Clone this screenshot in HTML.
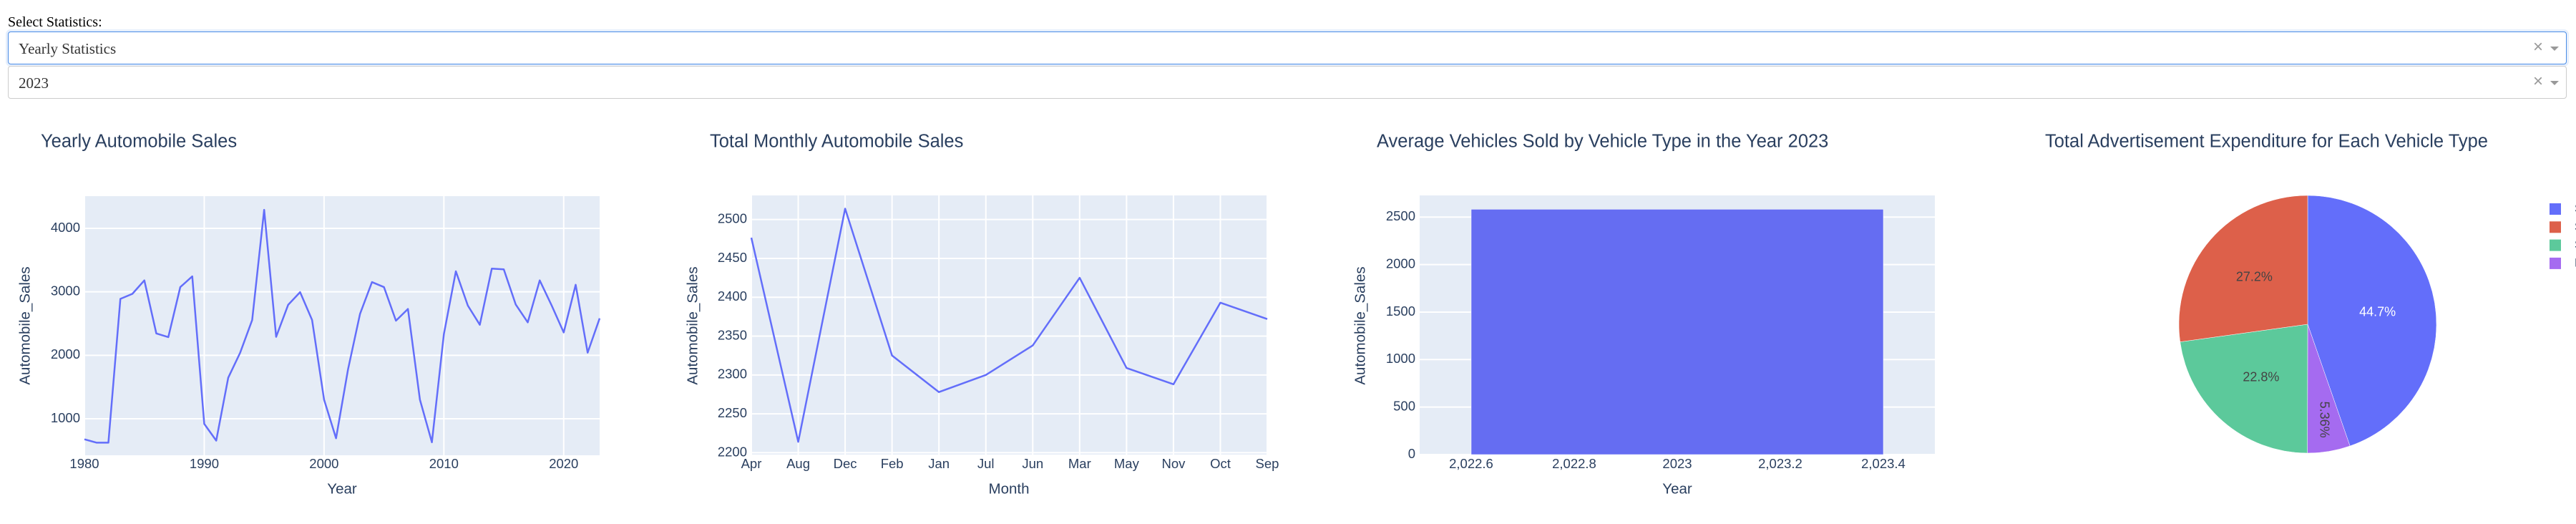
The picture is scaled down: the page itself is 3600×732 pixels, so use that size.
<!DOCTYPE html>
<html><head><meta charset="utf-8">
<style>
html,body{margin:0;padding:0;background:#fff;width:3600px;height:732px;overflow:hidden;}
.lbl{position:absolute;left:11px;top:20px;font:20px "Liberation Serif",serif;color:#000;}
.dd{position:absolute;left:11px;width:3576px;height:46px;border:1px solid #ccc;border-radius:4px;box-sizing:border-box;background:#fff;}
.dd.focus{border-color:#4a8ce6;box-shadow:0 0 0 3px #e6effc;}
.dd .val{position:absolute;left:14px;top:11px;font:21px "Liberation Serif",serif;color:#333;}
.dd .clr{position:absolute;right:32px;top:7px;font:24px "Liberation Sans",sans-serif;color:#999;}
.dd .arr{position:absolute;right:10px;top:20px;width:0;height:0;border-left:6px solid transparent;border-right:6px solid transparent;border-top:6px solid #999;}
svg{position:absolute;left:0;top:0;}
text{font-family:"Liberation Sans",sans-serif;fill:#2a3f5f;}
</style></head><body>
<div class="lbl">Select Statistics:</div>
<div class="dd focus" style="top:44px"><span class="val">Yearly Statistics</span><span class="clr">×</span><span class="arr"></span></div>
<div class="dd" style="top:92px"><span class="val">2023</span><span class="clr">×</span><span class="arr"></span></div>
<svg id="s" width="3600" height="732"></svg>
<script>
const yearlyYears=[1980,1981,1982,1983,1984,1985,1986,1987,1988,1989,1990,1991,1992,1993,1994,1995,1996,1997,1998,1999,2000,2001,2002,2003,2004,2005,2006,2007,2008,2009,2010,2011,2012,2013,2014,2015,2016,2017,2018,2019,2020,2021,2022,2023];
const yearlySales=[677,624,624,2889,2968,3180,2344,2286,3074,3243,920,656,1646,2042,2556,4291,2291,2794,2995,2556,1302,693,1778,2651,3153,3074,2545,2730,1302,630,2333,3323,2783,2481,3365,3354,2799,2519,3180,2783,2360,3111,2042,2582];
const yearlyXTicks=[1980,1990,2000,2010,2020];
const yearlyYTicks=[1000,2000,3000,4000];
const months=['Apr','Aug','Dec','Feb','Jan','Jul','Jun','Mar','May','Nov','Oct','Sep'];
const monthlySales=[2476.6,2214,2514,2325,2278,2300,2338,2425,2309,2288,2393,2372];
const monthlyYTicks=[2200,2250,2300,2350,2400,2450,2500];
const barYears=[2023];
const barSales=[2582];
const barXTicks=[2022.6,2022.8,2023,2023.2,2023.4];
const barXTickLabels=['2,022.6','2,022.8','2023','2,023.2','2,023.4'];
const barYTicks=[0,500,1000,1500,2000,2500];
const pieLabels=['Sports','Smallfamiliycar','Supperminicar','Executivecar'];
const pieValues=[44.7,27.2,22.8,5.36];
const pieColors=['#636efa','#dd604a','#5cc99b','#a56bf0'];
const pieDrawOrder=[0,3,2,1];

const NS='http://www.w3.org/2000/svg';
const svg=document.getElementById('s');
const TF=18.5, AF=20.5, HF=25.5;
function el(tag,attrs,parent,txt){const e=document.createElementNS(NS,tag);for(const k in attrs)e.setAttribute(k,attrs[k]);if(txt!==undefined)e.textContent=txt;(parent||svg).appendChild(e);return e;}
function lin(d0,d1,r0,r1){return v=>r0+(v-d0)/(d1-d0)*(r1-r0);}

function title(x,y,t,name){const e=el('text',{x:x,y:y,'font-size':HF,'dominant-baseline':'middle'},svg,t);

}
function axTitles(xx,xy,xt,yx,yy,yt,prefix){
const a=el('text',{x:xx,y:xy,'font-size':AF,'text-anchor':'middle','dominant-baseline':'middle'},svg,xt);


const b=el('text',{x:yx,y:yy,'font-size':AF,'text-anchor':'middle','dominant-baseline':'middle',transform:`rotate(-90 ${yx} ${yy})`},svg,yt);

}

// Chart 1
(function(){
const L=118,R=838,T=274,B=636;
const X=lin(1980,2023,L,R),Y=lin(425,4507,B,T);
const g=el('g',{});


el('rect',{x:L,y:T,width:R-L,height:B-T,fill:'#e5ecf6'},g);
yearlyXTicks.forEach(t=>{el('line',{x1:X(t),x2:X(t),y1:T,y2:B,stroke:'#fff','stroke-width':2},g);
const e=el('text',{x:X(t),y:649,'font-size':TF,'text-anchor':'middle','dominant-baseline':'middle'},g,t);

});
yearlyYTicks.forEach(t=>{el('line',{x1:L,x2:R,y1:Y(t),y2:Y(t),stroke:'#fff','stroke-width':2},g);
const e=el('text',{x:L-6,y:Y(t),'font-size':TF,'text-anchor':'end','dominant-baseline':'middle'},g,t);

});
const p=el('polyline',{points:yearlyYears.map((y,i)=>X(y)+','+Y(yearlySales[i])).join(' '),fill:'none',stroke:'#636efa','stroke-width':2.5,'stroke-linejoin':'round'},g);


title(57,199,'Yearly Automobile Sales','yearly-chart-title');
axTitles(478,684,'Year',36,455,'Automobile_Sales','yearly');
})();

// Chart 2
(function(){
const L=1050,R=1771,T=273,B=635;
const X=i=>L+i*(R-L)/(months.length-1),Y=lin(2197.6,2531,B,T);
const g=el('g',{});


el('rect',{x:L,y:T,width:R-L,height:B-T,fill:'#e5ecf6'},g);
months.forEach((m,i)=>{el('line',{x1:X(i),x2:X(i),y1:T,y2:B,stroke:'#fff','stroke-width':2},g);
const e=el('text',{x:X(i),y:649,'font-size':TF,'text-anchor':'middle','dominant-baseline':'middle'},g,m);

});
monthlyYTicks.forEach(t=>{el('line',{x1:L,x2:R,y1:Y(t),y2:Y(t),stroke:'#fff','stroke-width':2},g);
const e=el('text',{x:L-6,y:Y(t),'font-size':TF,'text-anchor':'end','dominant-baseline':'middle'},g,t);

});
const p=el('polyline',{points:months.map((m,i)=>X(i)+','+Y(monthlySales[i])).join(' '),fill:'none',stroke:'#636efa','stroke-width':2.5,'stroke-linejoin':'round'},g);


title(992,199,'Total Monthly Automobile Sales','monthly-chart-title');
axTitles(1410,684,'Month',969,455,'Automobile_Sales','monthly');
})();

// Chart 3
(function(){
const L=1984,R=2704,T=273,B=635;
const X=lin(2022.5,2023.5,L,R),Y=lin(0,2728,B,T);
const g=el('g',{});


el('rect',{x:L,y:T,width:R-L,height:B-T,fill:'#e5ecf6'},g);
barXTicks.forEach((t,i)=>{
const e=el('text',{x:X(t),y:649,'font-size':TF,'text-anchor':'middle','dominant-baseline':'middle'},g,barXTickLabels[i]);

});
barYTicks.forEach(t=>{el('line',{x1:L,x2:R,y1:Y(t),y2:Y(t),stroke:'#fff','stroke-width':2},g);
const e=el('text',{x:L-6,y:Y(t),'font-size':TF,'text-anchor':'end','dominant-baseline':'middle'},g,t);

});
barYears.forEach((yr,i)=>{const r=el('rect',{x:X(yr-0.4),y:Y(barSales[i]),width:X(yr+0.4)-X(yr-0.4),height:Y(0)-Y(barSales[i]),fill:'#656df2',stroke:'#fff','stroke-width':0.5},g);

});
title(1924,199,'Average Vehicles Sold by Vehicle Type in the Year 2023','bar-chart-title');
axTitles(2344,684,'Year',1902,455,'Automobile_Sales','bar');
})();

// Chart 4
(function(){
const cx=3225,cy=453,r=180;
const g=el('g',{});


const total=pieValues.reduce((a,b)=>a+b,0);
let ang=0;
pieDrawOrder.forEach(i=>{
const a0=ang,a1=ang+pieValues[i]/total*2*Math.PI;ang=a1;
const p0=[cx+r*Math.sin(a0),cy-r*Math.cos(a0)],p1=[cx+r*Math.sin(a1),cy-r*Math.cos(a1)];
const large=(a1-a0)>Math.PI?1:0;
const s=el('path',{d:`M${cx},${cy}L${p0[0]},${p0[1]}A${r},${r} 0 ${large} 1 ${p1[0]},${p1[1]}Z`,fill:pieColors[i],stroke:'#fff','stroke-width':0.5},g);


const am=(a0+a1)/2,frac=pieValues[i]/total;
const rr=frac<0.1?r*0.75:r*0.55;
const tx=cx+rr*Math.sin(am),ty=cy-rr*Math.cos(am);
const lbl=pieValues[i]+'%';
const attrs={x:tx,y:ty,'font-size':18,'text-anchor':'middle','dominant-baseline':'middle'};
if(frac<0.1)attrs.transform=`rotate(90 ${tx} ${ty})`;
const t=el('text',attrs,g,lbl);
t.style.fill=i===0?'#fff':'#444';


});
pieLabels.forEach((lb,i)=>{
const y=284+i*25.3;
const sq=el('rect',{x:3563,y:y,width:16,height:16,fill:pieColors[i]},g);


const t=el('text',{x:3598,y:y+8,'font-size':17,'dominant-baseline':'middle'},g,lb);


});
title(2858,199,'Total Advertisement Expenditure for Each Vehicle Type','pie-chart-title');
})();
</script>
</body></html>
